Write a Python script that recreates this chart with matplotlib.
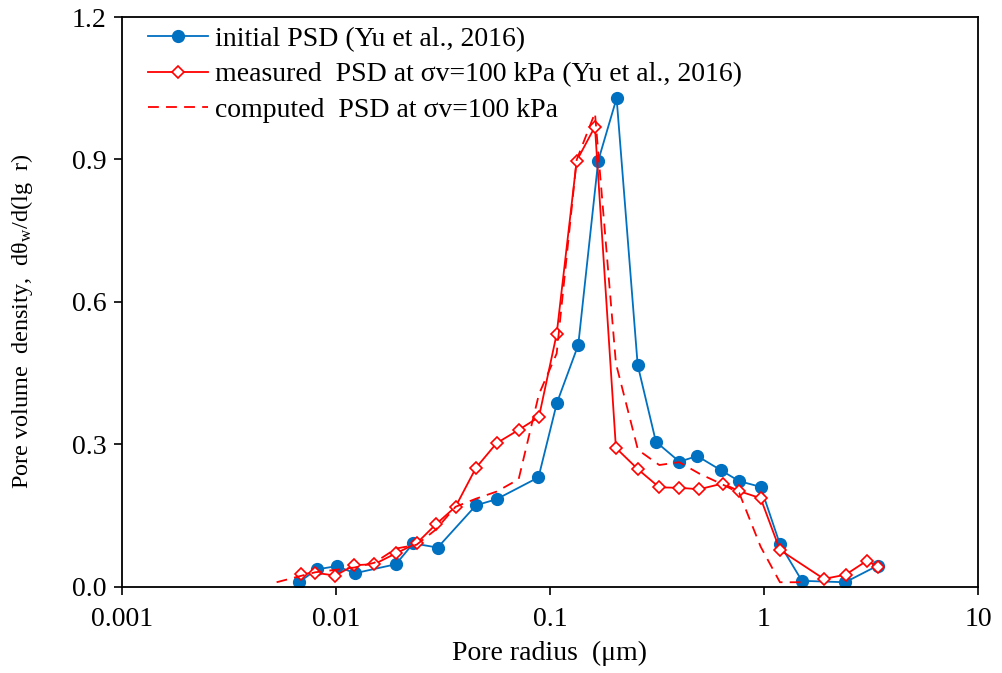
import matplotlib
matplotlib.use("Agg")
import matplotlib.pyplot as plt

plt.rcParams['font.family'] = ['Liberation Serif', 'DejaVu Serif']
plt.rcParams['mathtext.fontset'] = 'custom'
plt.rcParams['mathtext.rm'] = 'Liberation Serif'
plt.rcParams['mathtext.it'] = 'Liberation Serif:italic'

# initial PSD (Yu et al., 2016)
r_init = [0.00671, 0.00813, 0.01008, 0.01227, 0.01907, 0.02297, 0.02987, 0.0451,
          0.0563, 0.0884, 0.1078, 0.1356, 0.1681, 0.2049, 0.2570, 0.3128, 0.4028,
          0.4878, 0.6295, 0.7667, 0.965, 1.188, 1.505, 2.399, 3.399]
f_init = [0.009, 0.036, 0.043, 0.028, 0.047, 0.091, 0.082, 0.171,
          0.184, 0.230, 0.387, 0.509, 0.897, 1.029, 0.467, 0.305, 0.263,
          0.275, 0.245, 0.222, 0.210, 0.089, 0.012, 0.009, 0.044]

# measured PSD at 100 kPa
r_meas = [0.00684, 0.00800, 0.00992, 0.01218, 0.0151, 0.01907, 0.02383, 0.0293,
          0.0362, 0.0451, 0.0563, 0.0714, 0.0888, 0.1075, 0.1333, 0.1623, 0.2034,
          0.2578, 0.3242, 0.4019, 0.4984, 0.6412, 0.7667, 0.965, 1.188, 1.907,
          2.41, 3.02, 3.42]
f_meas = [0.026, 0.029, 0.023, 0.045, 0.047, 0.070, 0.091, 0.131,
          0.168, 0.250, 0.302, 0.330, 0.357, 0.532, 0.897, 0.969, 0.292,
          0.247, 0.209, 0.208, 0.205, 0.217, 0.201, 0.186, 0.077, 0.016,
          0.025, 0.054, 0.042]

# computed PSD at 100 kPa
r_comp = [0.00528, 0.0068, 0.0080, 0.0099, 0.0122, 0.0151, 0.0191, 0.0238,
          0.0293, 0.0362, 0.0451, 0.0563, 0.0714, 0.0888, 0.1075, 0.1333,
          0.1623, 0.2034, 0.2578, 0.3242, 0.4019, 0.4984, 0.6412, 0.7667,
          0.965, 1.188, 1.505]
f_comp = [0.009, 0.022, 0.030, 0.035, 0.040, 0.050, 0.080, 0.088,
          0.120, 0.168, 0.185, 0.200, 0.226, 0.405, 0.491, 0.899,
          0.998, 0.47, 0.288, 0.256, 0.262, 0.238, 0.215, 0.197,
          0.084, 0.009, 0.009]

fs = 20

fig = plt.figure(figsize=(10.03, 6.73), dpi=100)
ax = fig.add_axes([0.1216, 0.1285, 0.8534, 0.8462])

ax.plot(r_init, f_init, color='#0070C0', lw=1.3, marker='o', ms=8.5,
        label='initial PSD (Yu et al., 2016)')
ax.plot(r_meas, f_meas, color='#FF0000', lw=1.3, marker='D', ms=6,
        mfc='white', mec='#FF0000', mew=1.2,
        label='measured  PSD at σv=100 kPa (Yu et al., 2016)')
ax.plot(r_comp, f_comp, color='#FF0000', lw=1.3, ls=(0, (6, 4)),
        label='computed  PSD at σv=100 kPa')

ax.set_xscale('log')
ax.set_xlim(0.001, 10)
ax.set_ylim(0, 1.2)
ax.set_xticks([0.001, 0.01, 0.1, 1, 10])
ax.set_xticklabels(['0.001', '0.01', '0.1', '1', '10'])
ax.minorticks_off()
ax.set_yticks([0, 0.3, 0.6, 0.9, 1.2])
ax.set_yticklabels(['0.0', '0.3', '0.6', '0.9', '1.2'])
ax.tick_params(direction='out', length=6, width=1.2, labelsize=fs, pad=5)
ax.tick_params(axis='x', pad=9)
for s in ax.spines.values():
    s.set_linewidth(1.3)

ax.set_xlabel('Pore radius  (μm)', fontsize=fs, labelpad=6)
ax.set_ylabel(r'Pore volume  density,  dθ$_\mathrm{w}$/d(lg  r)', fontsize=17.5)
ax.yaxis.set_label_coords(-0.1016, 0.466)

ax.legend(loc='upper left', bbox_to_anchor=(0.024, 0.993), borderaxespad=0,
          borderpad=0.2, frameon=False, fontsize=fs, handlelength=2.16,
          handletextpad=0.25, labelspacing=0.36)

fig.savefig('out.png', dpi=100)
